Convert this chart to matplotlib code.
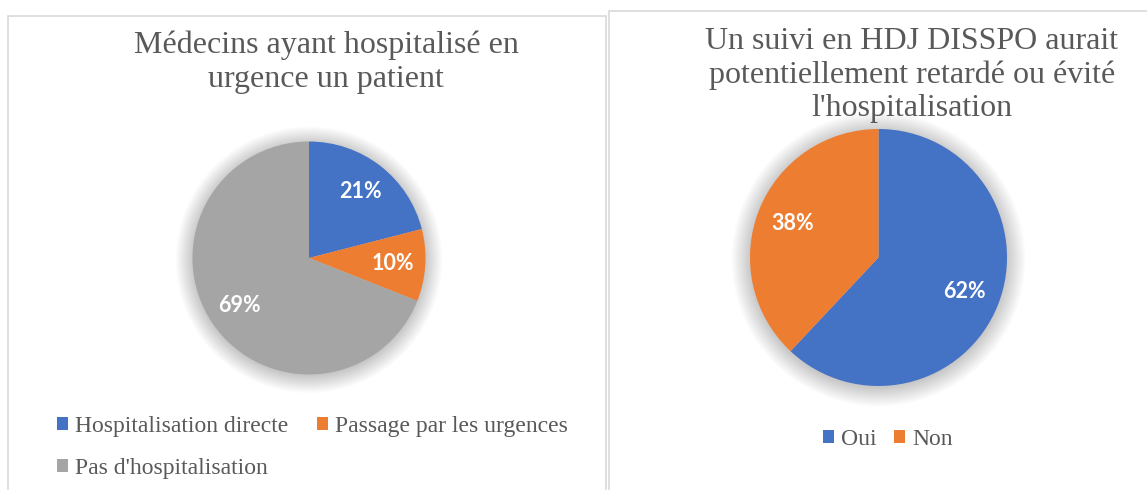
import matplotlib.pyplot as plt
from matplotlib.patches import Circle, Rectangle

# data
hosp_labels = ['Hospitalisation directe', 'Passage par les urgences', "Pas d'hospitalisation"]
hosp_values = [21, 10, 69]
hdj_labels = ['Oui', 'Non']
hdj_values = [62, 38]

blue, orange, gray = '#4472C4', '#ED7D31', '#A5A5A5'
txt = '#595959'
serif = 'Liberation Serif'
W, H = 1147, 490

fig = plt.figure(figsize=(W / 100, H / 100), dpi=100)
fig.patch.set_facecolor('white')

# panel borders (pixel coords -> figure fraction)
for x0, x1, top in [(8, 606, 16), (609, 1160, 11)]:
    fig.patches.append(Rectangle((x0 / W, -10 / H), (x1 - x0) / W, (H - top + 10) / H,
                                 transform=fig.transFigure, fill=False,
                                 edgecolor='#d9d9d9', linewidth=1.2))


def pie_axes(cx, cy, r, pad=1.25):
    s = r * pad
    ax = fig.add_axes([(cx - s) / W, (H - cy - s) / H, 2 * s / W, 2 * s / H])
    return ax, pad


def draw_pie(ax, pad, values, colors):
    # soft glow like the Excel shadow
    for i in range(14):
        ax.add_patch(Circle((0, -0.015), 1.0 + 0.011 * i, color='black',
                            alpha=0.014, linewidth=0, zorder=0))
    wedges, _, autotexts = ax.pie(values, colors=colors, startangle=90, counterclock=False,
                                  autopct='%1.0f%%', pctdistance=0.72, radius=1.0,
                                  wedgeprops=dict(linewidth=0, zorder=2))
    for t in autotexts:
        t.set_color('white')
        t.set_fontsize(15.5)
        t.set_fontweight('bold')
        t.set_family('Lato')
    ax.set_xlim(-pad, pad)
    ax.set_ylim(-pad, pad)
    ax.set_aspect('equal')
    ax.axis('off')
    return wedges


ax1, p1 = pie_axes(309, 258, 116.5)
w1 = draw_pie(ax1, p1, hosp_values, [blue, orange, gray])

ax2, p2 = pie_axes(878.5, 257.5, 128.5)
w2 = draw_pie(ax2, p2, hdj_values, [blue, orange])

# titles (va='baseline' sits on the last line)
fig.text(326 / W, 1 - 87 / H, 'Médecins ayant hospitalisé en\nurgence un patient',
         ha='center', va='baseline', fontsize=23, family=serif, color=txt,
         multialignment='center', linespacing=1.22)
fig.text(912 / W, 1 - 116 / H,
         "Un suivi en HDJ DISSPO aurait\npotentiellement retardé ou évité\nl'hospitalisation",
         ha='center', va='baseline', fontsize=23, family=serif, color=txt,
         multialignment='center', linespacing=1.2)

# legends
leg_kw = dict(frameon=False, prop={'family': serif, 'size': 17}, labelcolor=txt,
              handlelength=0.48, handleheight=0.48, handletextpad=0.3,
              borderpad=0, borderaxespad=0, loc='upper left')
order = [0, 2, 1]
fig.legend([w1[i] for i in order], [hosp_labels[i] for i in order], ncol=2,
           bbox_to_anchor=(57 / W, 1 - 416 / H), columnspacing=1.2, labelspacing=0.9,
           **leg_kw)
fig.legend(w2, hdj_labels, ncol=2, bbox_to_anchor=(823 / W, 1 - 429 / H),
           columnspacing=0.7, **leg_kw)

fig.savefig('out.png', dpi=100, facecolor='white')
